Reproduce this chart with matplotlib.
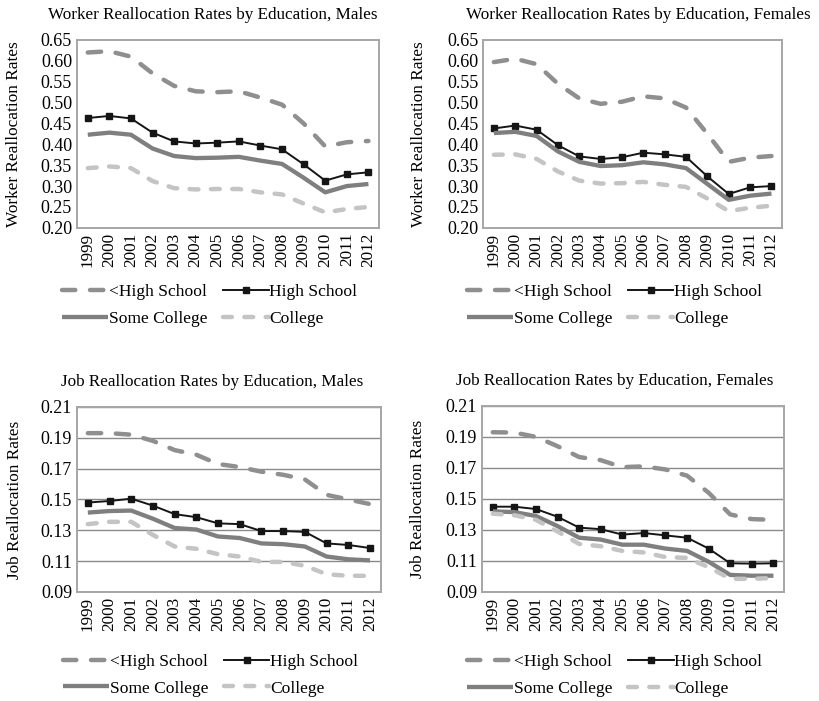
import numpy as np
from matplotlib import pyplot as plt
from matplotlib.lines import Line2D

plt.rcParams["font.family"] = ["Liberation Serif", "DejaVu Serif"]

years = [str(y) for y in range(1999, 2013)]
series_names = ["<High School", "High School", "Some College", "College"]

# Worker reallocation, males
wm_lths = [0.620, 0.623, 0.610, 0.570, 0.540, 0.527, 0.525, 0.527, 0.512, 0.495, 0.450, 0.395, 0.405, 0.408]
wm_hs = [0.463, 0.468, 0.462, 0.428, 0.407, 0.402, 0.404, 0.407, 0.397, 0.388, 0.352, 0.313, 0.328, 0.333]
wm_sc = [0.423, 0.428, 0.423, 0.390, 0.372, 0.367, 0.368, 0.370, 0.361, 0.353, 0.320, 0.285, 0.300, 0.305]
wm_col = [0.343, 0.347, 0.343, 0.312, 0.295, 0.292, 0.293, 0.293, 0.285, 0.280, 0.258, 0.237, 0.245, 0.250]

# Worker reallocation, females
wf_lths = [0.597, 0.605, 0.592, 0.545, 0.510, 0.497, 0.502, 0.515, 0.510, 0.488, 0.425, 0.358, 0.368, 0.372]
wf_hs = [0.438, 0.445, 0.435, 0.398, 0.371, 0.365, 0.369, 0.380, 0.376, 0.370, 0.323, 0.281, 0.297, 0.300]
wf_sc = [0.427, 0.430, 0.420, 0.383, 0.358, 0.348, 0.350, 0.357, 0.352, 0.343, 0.305, 0.267, 0.277, 0.282]
wf_col = [0.375, 0.376, 0.365, 0.335, 0.313, 0.306, 0.307, 0.310, 0.303, 0.298, 0.270, 0.240, 0.248, 0.253]

# Job reallocation, males
jm_lths = [0.193, 0.193, 0.192, 0.188, 0.182, 0.179, 0.173, 0.171, 0.168, 0.166, 0.163, 0.153, 0.150, 0.147]
jm_hs = [0.148, 0.149, 0.1505, 0.146, 0.1405, 0.1385, 0.1345, 0.134, 0.1295, 0.1295, 0.129, 0.1215, 0.1205, 0.1185]
jm_sc = [0.1415, 0.1425, 0.1428, 0.1375, 0.1315, 0.1305, 0.126, 0.125, 0.1215, 0.121, 0.1195, 0.113, 0.1112, 0.1105]
jm_col = [0.134, 0.1355, 0.1355, 0.127, 0.1195, 0.118, 0.1145, 0.113, 0.1095, 0.1095, 0.107, 0.1015, 0.1005, 0.1005]

# Job reallocation, females
jf_lths = [0.193, 0.1928, 0.190, 0.184, 0.177, 0.175, 0.1705, 0.171, 0.169, 0.165, 0.154, 0.140, 0.137, 0.1365]
jf_hs = [0.145, 0.145, 0.1435, 0.1385, 0.1315, 0.1305, 0.127, 0.128, 0.1265, 0.125, 0.118, 0.1085, 0.1083, 0.1085]
jf_sc = [0.142, 0.1415, 0.139, 0.1325, 0.125, 0.1238, 0.1205, 0.1205, 0.118, 0.1165, 0.1095, 0.101, 0.1005, 0.1005]
jf_col = [0.1405, 0.1395, 0.1365, 0.129, 0.121, 0.1195, 0.1165, 0.1155, 0.1125, 0.112, 0.106, 0.0985, 0.0985, 0.099]

worker_ticks = [0.20, 0.25, 0.30, 0.35, 0.40, 0.45, 0.50, 0.55, 0.60, 0.65]
job_ticks = [0.09, 0.11, 0.13, 0.15, 0.17, 0.19, 0.21]

styles = [
    dict(color="#8f8f8f", lw=3.2, dashes=(3.0, 3.3), dash_capstyle="round"),
    dict(color="#151515", lw=1.4, marker="s", ms=5.0),
    dict(color="#7f7f7f", lw=3.1, solid_capstyle="butt"),
    dict(color="#c4c4c4", lw=3.2, dashes=(2.0, 2.8), dash_capstyle="round"),
]

# title, ylabel, series, ticks, grid, axes rect, title x, ylabel x, legend y
panels = [
    ("Worker Reallocation Rates by Education, Males", "Worker Reallocation Rates",
     [wm_lths, wm_hs, wm_sc, wm_col], worker_ticks, False,
     [0.094, 0.675, 0.369, 0.268], 0.45, -0.182, -0.262),
    ("Worker Reallocation Rates by Education, Females", "Worker Reallocation Rates",
     [wf_lths, wf_hs, wf_sc, wf_col], worker_ticks, False,
     [0.590, 0.675, 0.365, 0.268], 0.518, -0.187, -0.262),
    ("Job Reallocation Rates by Education, Males", "Job Reallocation Rates",
     [jm_lths, jm_hs, jm_sc, jm_col], job_ticks, True,
     [0.094, 0.1555, 0.371, 0.264], 0.444, -0.178, -0.295),
    ("Job Reallocation Rates by Education, Females", "Job Reallocation Rates",
     [jf_lths, jf_hs, jf_sc, jf_col], job_ticks, True,
     [0.5885, 0.1555, 0.369, 0.2655], 0.44, -0.185, -0.295),
]

fig = plt.figure(figsize=(8.19, 7.01), dpi=100)
x = np.arange(len(years))

for title, ylabel, data, ticks, grid, rect, title_x, ylab_x, leg_y in panels:
    ax = fig.add_axes(rect)
    for values, style in zip(data, styles):
        ax.plot(x, values, **style)
    ax.set_xlim(-0.5, len(years) - 0.5)
    ax.set_ylim(ticks[0], ticks[-1])
    ax.set_xticks(x)
    ax.set_xticklabels(years, rotation=90, fontsize=12.3)
    ax.set_yticks(ticks)
    ax.set_yticklabels(["{:.2f}".format(t) for t in ticks], fontsize=13)
    ax.tick_params(length=0, pad=3.5)
    if grid:
        ax.yaxis.grid(True, color="#8a8a8a", lw=1.0)
        ax.set_axisbelow(True)
    for sp in ax.spines.values():
        sp.set_color("#a6a6a6")
        sp.set_linewidth(1.4)
    ax.set_title(title, fontsize=12.3, pad=15, x=title_x)
    ax.set_ylabel(ylabel, fontsize=12.4)
    ax.yaxis.set_label_coords(ylab_x, 0.5)

    handles = [Line2D([], [], **s) for s in styles]
    order = [0, 2, 1, 3]
    ax.legend([handles[i] for i in order], [series_names[i] for i in order],
              ncol=2, loc="upper center", bbox_to_anchor=(0.44, leg_y),
              frameon=False, fontsize=12.6, handlelength=2.6, handletextpad=0.05,
              columnspacing=0.9, labelspacing=0.6, borderaxespad=0)

fig.savefig("out.png", dpi=100)
